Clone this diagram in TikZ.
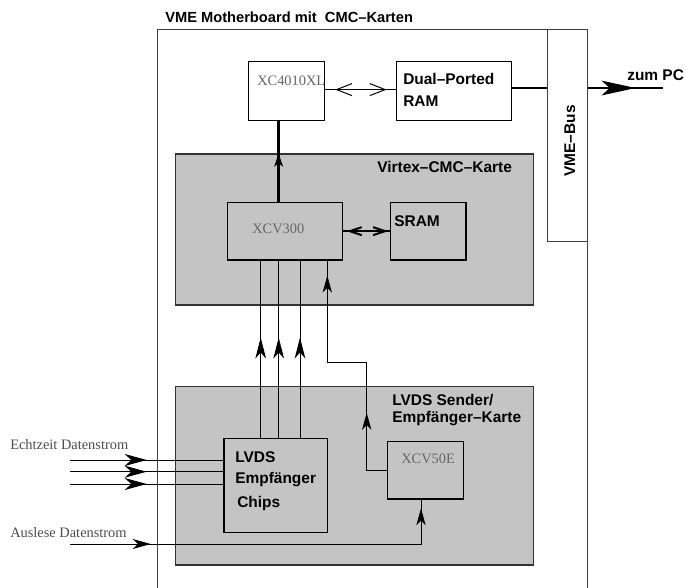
\documentclass[tikz,border=0pt]{standalone}
\usepackage{fontspec}
\setmainfont{Liberation Serif}
\setsansfont{Liberation Sans}
\usetikzlibrary{arrows.meta,fit,decorations.markings}
\tikzset{
  tipE/.tip={Stealth[length=16.5pt,width=9pt,inset=5pt]},
  tipV/.tip={Stealth[length=15.75pt,width=8pt,inset=4.5pt]},
  tipK/.tip={Stealth[length=12.75pt,width=7pt,inset=3.5pt]},
  tipA/.tip={Stealth[length=13.5pt,width=7.5pt,inset=4pt]},
  tipT/.tip={Stealth[length=9.75pt,width=6.5pt,inset=2.5pt]},
  tipPC/.tip={Stealth[length=25.5pt,width=11pt,inset=6pt]},
  barbA/.tip={Straight Barb[length=11.5pt,width=9pt]},
  barbB/.tip={Straight Barb[length=9pt,width=6pt]},
}
\begin{document}
\begin{tikzpicture}[x=0.75pt,y=-0.75pt,
  lbl/.style={font=\sffamily\bfseries\fontsize{11.6}{14}\selectfont, inner sep=0pt, anchor=base west},
  chip/.style={font=\rmfamily\fontsize{10.8}{13}\selectfont, text=black!60, inner sep=0pt, anchor=base west},
  wbox/.style={draw=black, line width=0.8pt, inner sep=0pt, fill=white},
  ibox/.style={draw=black, line width=0.8pt, inner sep=0pt},
  card/.style={draw=black!80, line width=1.1pt, fill=black!23, inner sep=0pt},
  frame/.style={draw=black!75, line width=1pt, inner sep=0pt},
  conn/.style={line width=0.75pt},
  thickc/.style={line width=1.9pt},
  am/.style={postaction={decorate}, decoration={markings, #1}},
]
\useasboundingbox (0,0) rectangle (686,587);
\clip (0,0) rectangle (686,587);

% frames and cards
\node[frame, fit={(157.7,29.7)(587.7,620)}] (mb) {};
\node[frame, fit={(547.7,29.7)(587.7,241.7)}] (vme) {};
\node[card, fit={(175.7,154)(533.3,305)}] (virtex) {};
\node[card, fit={(175.7,386.7)(533.3,565)}] (lvdscard) {};

% chip boxes
\node[wbox, fit={(248.5,61.5)(324.4,120.3)}] (xc4) {};
\node[wbox, fit={(396.8,61.5)(511.7,120.3)}] (dpr) {};
\node[ibox, fit={(227.3,202.3)(342.7,260)}] (xcv300) {};
\node[ibox, fit={(390.7,202.3)(466,260)}] (sram) {};
\node[ibox, fit={(224,438.3)(327.3,532.3)}] (lvds) {};
\node[ibox, fit={(387.7,441.7)(463.3,499)}] (xcv50e) {};

% texts
\node[lbl, font=\sffamily\bfseries\fontsize{11}{13}\selectfont] (title) at (165,22) {VME Motherboard mit\ \ CMC–Karten};
\node[lbl] (zum) at (627,80) {zum PC};
\node[lbl] (dpr1) at (403,84) {Dual–Ported};
\node[lbl] (dpr2) at (403,106) {RAM};
\node[chip] (xc4t) at (257,85) {XC4010XL};
\node[lbl, anchor=center, rotate=90] (vmet) at (570,141) {VME–Bus};
\node[lbl] (virt) at (377,172) {Virtex–CMC–Karte};
\node[chip] (xcv300t) at (252,233) {XCV300};
\node[lbl] (sramt) at (394,226) {SRAM};
\node[lbl] (lc1) at (392,405) {LVDS Sender/};
\node[lbl] (lc2) at (392,422) {Empfänger–Karte};
\node[chip] (xcv50t) at (401,463) {XCV50E};
\node[lbl] (l1) at (235,462) {LVDS};
\node[lbl] (l2) at (235,483) {Empfänger};
\node[lbl] (l3) at (237,507) {Chips};
\node[chip, text=black!70] (echt) at (10,449) {Echtzeit Datenstrom};
\node[chip, text=black!70] (ausl) at (10,537) {Auslese Datenstrom};

% helper coordinates
\coordinate (ya) at (0,89.6);
\coordinate (yb) at (0,88);
\coordinate (cx) at (278.6,0);
\coordinate (pcend) at (663,88);
\coordinate (v1) at (260.7,0);
\coordinate (v2) at (278.7,0);
\coordinate (v3) at (300,0);
\coordinate (k1) at (366.7,0);
\coordinate (k2) at (327.3,362.7);
\coordinate (e1) at (70,460);
\coordinate (e2) at (70,471.7);
\coordinate (e3) at (70,484);
\coordinate (a0) at (70,544);
\coordinate (a1) at (421,544);

% connectors
\draw[conn, am={mark=at position 7.7pt with {\arrowreversed{barbA}}, mark=at position 46.2pt with {\arrow{barbA}}}]
  (xc4.east |- ya) -- (dpr.west |- ya);
\draw[thickc, am={mark=at position 36.2pt with {\arrow{tipT}}}]
  (xcv300.north -| cx) -- (xc4.south -| cx);
\draw[thickc] (dpr.east |- yb) -- (vme.west |- yb);
\draw[thickc, am={mark=at position 35.5pt with {\arrow{tipPC}}}]
  (vme.east |- yb) -- (pcend);
\draw[line width=1.5pt, am={mark=at position 2.5pt with {\arrowreversed{barbB}}, mark=at position 33.75pt with {\arrow{barbB}}}]
  (xcv300.east) -- (sram.west);
\foreach \v in {v1,v2,v3}
  \draw[conn, am={mark=at position 75.2pt with {\arrow{tipV}}}] (lvds.north -| \v) -- (xcv300.south -| \v);
\draw[conn, am={mark=at position 58.5pt with {\arrow{tipK}}, mark=at position 191pt with {\arrow{tipK}}}]
  (xcv50e.west) -| (k1 |- k2) -- (k2) -- (xcv300.south -| k2);
\foreach \e in {e1,e2,e3}
  \draw[conn, am={mark=at position 57.5pt with {\arrow{tipE}}}] (\e) -- (\e -| lvds.west);
\draw[conn, am={mark=at position 60.5pt with {\arrow{tipA}}, mark=at position 290pt with {\arrow{tipK}}}]
  (a0) -- (a1) -- (xcv50e.south -| a1);
\end{tikzpicture}
\end{document}
